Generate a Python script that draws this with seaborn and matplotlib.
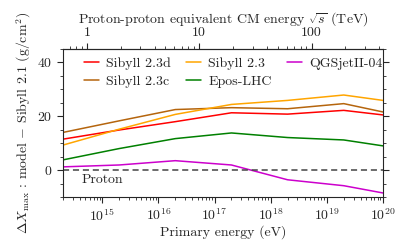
import numpy as np
import pandas as pd
import matplotlib
matplotlib.use('Agg')
import matplotlib.pyplot as plt
import seaborn as sns

# Xmax shift relative to Sibyll 2.1, proton primaries
energy = [2e14, 2e15, 2e16, 2e17, 2e18, 2e19, 1e20]
sib23d = [11.5, 14.9, 18.0, 21.3, 20.8, 22.2, 20.5]
sib23c = [14.0, 18.3, 22.5, 23.2, 22.8, 24.7, 21.6]
sib23 = [9.3, 15.2, 20.7, 24.4, 25.9, 27.9, 25.9]
epos = [3.8, 8.0, 11.7, 13.8, 12.1, 11.2, 9.0]
qgs = [1.2, 1.9, 3.5, 1.9, -3.6, -5.8, -8.5]

models = ['Sibyll 2.3d', 'Sibyll 2.3c', 'Sibyll 2.3', 'Epos-LHC', 'QGSjetII-04']
colors = ['#ff0000', '#b5650d', '#ffa500', '#008000', '#cc00cc']

df = pd.concat([
    pd.DataFrame({'energy': energy, 'dxmax': v, 'model': m})
    for m, v in zip(models, [sib23d, sib23c, sib23, epos, qgs])
], ignore_index=True)

sns.set_style('ticks')
plt.rcParams['font.family'] = ['cmr10', 'DejaVu Serif']
plt.rcParams['mathtext.fontset'] = 'cm'
plt.rcParams['axes.formatter.use_mathtext'] = True
fs = 10
plt.rcParams['font.size'] = fs

fig = plt.figure(figsize=(4, 2.47), dpi=100)
ax = fig.add_axes([0.1575, 0.2024, 0.8, 0.5992])

sns.lineplot(data=df, x='energy', y='dxmax', hue='model', hue_order=models,
             palette=colors, linewidth=1.1, ax=ax)
ax.axhline(0, color='#444444', ls=(0, (4, 2.5)), lw=1.1)

ax.set_xscale('log')
ax.set_xlim(2e14, 1e20)
ax.set_ylim(-10, 45)
ax.set_yticks([0, 20, 40])
ax.set_yticks(np.arange(-10, 46, 5), minor=True)
ax.set_xticks([1e15, 1e16, 1e17, 1e18, 1e19, 1e20])
ax.tick_params(which='both', direction='out', right=True, labelsize=fs)
ax.tick_params(which='major', length=4, width=0.8)
ax.tick_params(which='minor', length=2.2, width=0.6)
for s in ax.spines.values():
    s.set_linewidth(0.8)

ax.set_xlabel('Primary energy (eV)', fontsize=fs, labelpad=1)
ax.set_ylabel(r'$\Delta X_{\rm max}$ : model $-$ Sibyll 2.1 (g/cm$^2$)', fontsize=fs, labelpad=3)

mp = 0.938e9
def e2s(e):
    return np.sqrt(2 * mp * np.asarray(e, dtype=float)) / 1e12
def s2e(s):
    return (np.asarray(s, dtype=float) * 1e12) ** 2 / (2 * mp)

top = ax.secondary_xaxis('top', functions=(e2s, s2e))
top.set_xscale('log')
top.set_xticks([1, 10, 100])
top.set_xticklabels(['1', '10', '100'])
top.tick_params(which='both', direction='out', labelsize=fs)
top.tick_params(which='major', length=4, width=0.8)
top.tick_params(which='minor', length=2.2, width=0.6)
top.set_xlabel(r'Proton-proton equivalent CM energy $\sqrt{s}$ (TeV)', fontsize=fs, labelpad=3)

ax.text(4.2e14, -3.5, 'Proton', fontsize=fs, va='center')

h, l = ax.get_legend_handles_labels()
ax.legend(h, l, ncol=3, frameon=False, loc='upper left', bbox_to_anchor=(0.025, 1.03),
          handlelength=1.1, handletextpad=0.5, columnspacing=1.1, labelspacing=0.4,
          fontsize=fs)

fig.savefig('out.png', dpi=100)
